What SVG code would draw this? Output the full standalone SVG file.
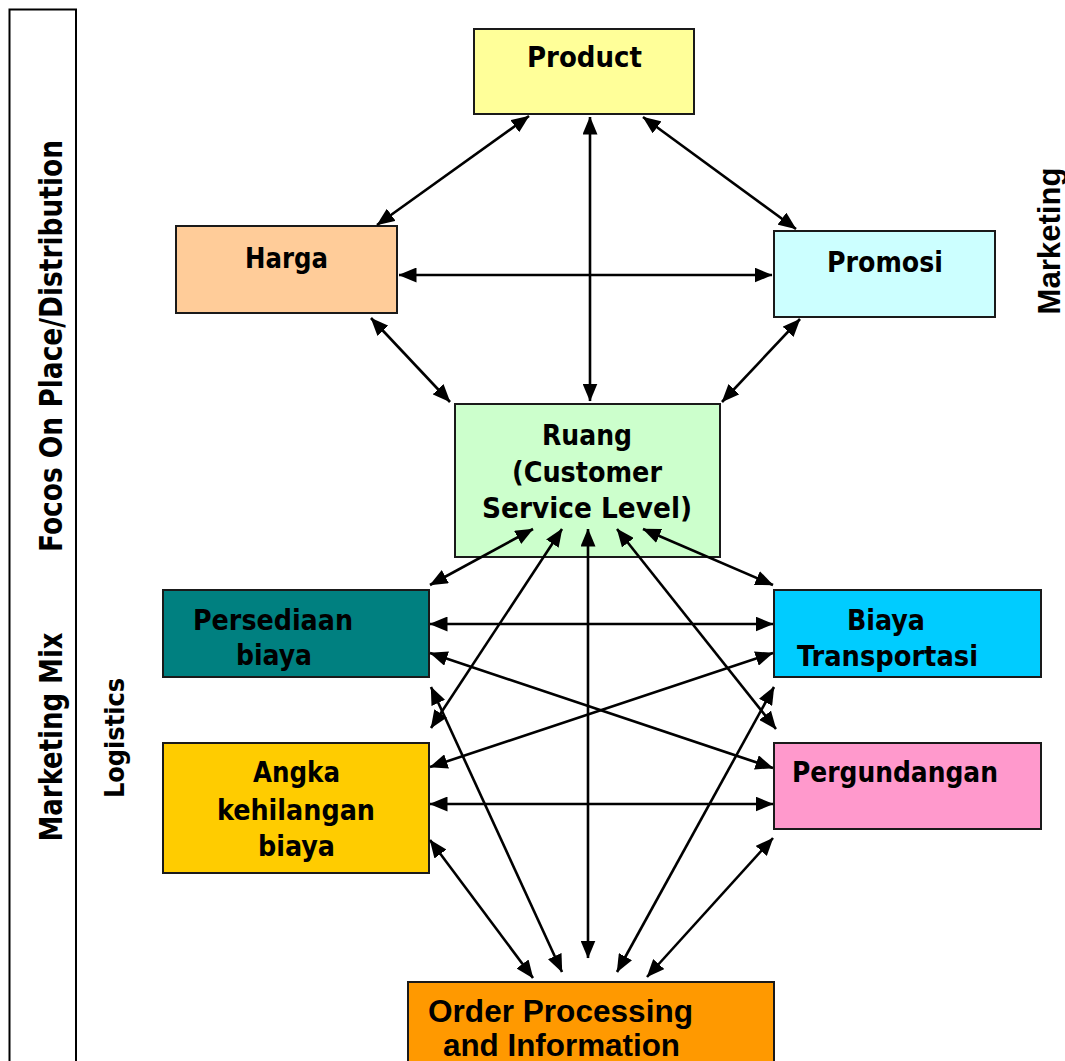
<svg xmlns="http://www.w3.org/2000/svg" width="1065" height="1061" viewBox="0 0 1065 1061">
  <defs>
    <style>
      .box { stroke: #1a1a1a; stroke-width: 2; }
      .lbl { font-family: "DejaVu Sans Condensed", "DejaVu Sans", sans-serif; font-weight: bold; font-size: 29px; fill: #000; }
      .side { font-family: "DejaVu Sans Condensed", "DejaVu Sans", sans-serif; font-weight: bold; fill: #000; }
      .arial { font-family: "Liberation Sans", Arial, sans-serif; font-weight: bold; fill: #000; }
      .link { stroke: #000; stroke-width: 2.6; fill: none; marker-start: url(#head); marker-end: url(#head); }
    </style>
    <marker id="head" viewBox="0 0 18 15" refX="17.5" refY="7.5" markerWidth="18" markerHeight="15" markerUnits="userSpaceOnUse" orient="auto-start-reverse">
      <path d="M0,0 L18,7.5 L0,15 z" fill="#000"/>
    </marker>
  </defs>

  <rect width="1065" height="1061" fill="#fff"/>

  <!-- side band with rotated captions -->
  <g id="side-band">
    <rect x="9.5" y="9.5" width="66.5" height="1080" fill="none" stroke="#000" stroke-width="2"/>
    <text class="side" font-size="32" text-anchor="middle" transform="translate(62,346) rotate(-90)" textLength="412" lengthAdjust="spacingAndGlyphs">Focos On Place/Distribution</text>
    <text class="side" font-size="32" text-anchor="middle" transform="translate(62,737) rotate(-90)" textLength="209" lengthAdjust="spacingAndGlyphs">Marketing Mix</text>
  </g>
  <text id="logistics-caption" class="side" font-size="26" text-anchor="middle" transform="translate(124,738) rotate(-90)" textLength="120" lengthAdjust="spacingAndGlyphs">Logistics</text>
  <text id="marketing-caption" class="arial" font-size="31" text-anchor="middle" transform="translate(1060,241) rotate(-90)" textLength="147" lengthAdjust="spacingAndGlyphs">Marketing</text>

  <!-- nodes -->
  <g id="product">
    <rect class="box" x="474" y="29" width="220" height="85" fill="#FFFF99"/>
    <text class="lbl" x="527" y="67" textLength="115" lengthAdjust="spacingAndGlyphs">Product</text>
  </g>
  <g id="harga">
    <rect class="box" x="176" y="226" width="221" height="87" fill="#FFCC99"/>
    <text class="lbl" x="245" y="268" textLength="83" lengthAdjust="spacingAndGlyphs">Harga</text>
  </g>
  <g id="promosi">
    <rect class="box" x="774" y="231" width="221" height="86" fill="#CCFFFF"/>
    <text class="lbl" x="827" y="272" textLength="116" lengthAdjust="spacingAndGlyphs">Promosi</text>
  </g>
  <g id="ruang">
    <rect class="box" x="455" y="404" width="265" height="153" fill="#CCFFCC"/>
    <text class="lbl" x="542" y="445" textLength="90" lengthAdjust="spacingAndGlyphs">Ruang</text>
    <text class="lbl" x="512" y="482" textLength="150" lengthAdjust="spacingAndGlyphs">(Customer</text>
    <text class="lbl" x="482" y="518" textLength="210" lengthAdjust="spacingAndGlyphs">Service Level)</text>
  </g>
  <g id="persediaan">
    <rect class="box" x="163" y="590" width="266" height="87" fill="#008080"/>
    <text class="lbl" x="193" y="630" textLength="160" lengthAdjust="spacingAndGlyphs">Persediaan</text>
    <text class="lbl" x="236" y="665" textLength="76" lengthAdjust="spacingAndGlyphs">biaya</text>
  </g>
  <g id="biaya-transportasi">
    <rect class="box" x="774" y="590" width="267" height="87" fill="#00CCFF"/>
    <text class="lbl" x="847" y="630" textLength="78" lengthAdjust="spacingAndGlyphs">Biaya</text>
    <text class="lbl" x="797" y="666" textLength="181" lengthAdjust="spacingAndGlyphs">Transportasi</text>
  </g>
  <g id="angka">
    <rect class="box" x="163" y="743" width="266" height="130" fill="#FFCC00"/>
    <text class="lbl" x="253" y="782" textLength="87" lengthAdjust="spacingAndGlyphs">Angka</text>
    <text class="lbl" x="217" y="820" textLength="158" lengthAdjust="spacingAndGlyphs">kehilangan</text>
    <text class="lbl" x="258" y="856" textLength="77" lengthAdjust="spacingAndGlyphs">biaya</text>
  </g>
  <g id="pergundangan">
    <rect class="box" x="774" y="743" width="267" height="86" fill="#FF99CC"/>
    <text class="lbl" x="792" y="782" textLength="206" lengthAdjust="spacingAndGlyphs">Pergundangan</text>
  </g>
  <g id="order-processing">
    <rect class="box" x="408" y="982" width="366" height="100" fill="#FF9900"/>
    <text class="arial" font-size="31.5" x="428" y="1022" textLength="265" lengthAdjust="spacingAndGlyphs">Order Processing</text>
    <text class="arial" font-size="31.5" x="443" y="1056" textLength="237" lengthAdjust="spacingAndGlyphs">and Information</text>
  </g>

  <!-- connectors, drawn on top so the lower Ruang heads sit inside its box -->
  <g id="connectors">
    <line class="link" x1="529" y1="116" x2="377" y2="225"/>
    <line class="link" x1="590" y1="117" x2="590" y2="401"/>
    <line class="link" x1="643" y1="117" x2="796" y2="229"/>
    <line class="link" x1="399" y1="275" x2="772" y2="275"/>
    <line class="link" x1="371" y1="318" x2="450" y2="402"/>
    <line class="link" x1="800" y1="319" x2="722" y2="402"/>
    <line class="link" x1="533" y1="529" x2="430" y2="585"/>
    <line class="link" x1="562" y1="529" x2="431" y2="728"/>
    <line class="link" x1="588" y1="529" x2="588" y2="958"/>
    <line class="link" x1="617" y1="529" x2="776" y2="729"/>
    <line class="link" x1="643" y1="529" x2="773" y2="585"/>
    <line class="link" x1="430" y1="624" x2="773" y2="624"/>
    <line class="link" x1="430" y1="653" x2="773" y2="768"/>
    <line class="link" x1="430" y1="767" x2="773" y2="653"/>
    <line class="link" x1="430" y1="804" x2="773" y2="804"/>
    <line class="link" x1="430" y1="840" x2="533" y2="978"/>
    <line class="link" x1="431" y1="687" x2="562" y2="972"/>
    <line class="link" x1="774" y1="687" x2="617" y2="972"/>
    <line class="link" x1="773" y1="838" x2="647" y2="977"/>
  </g>
</svg>
